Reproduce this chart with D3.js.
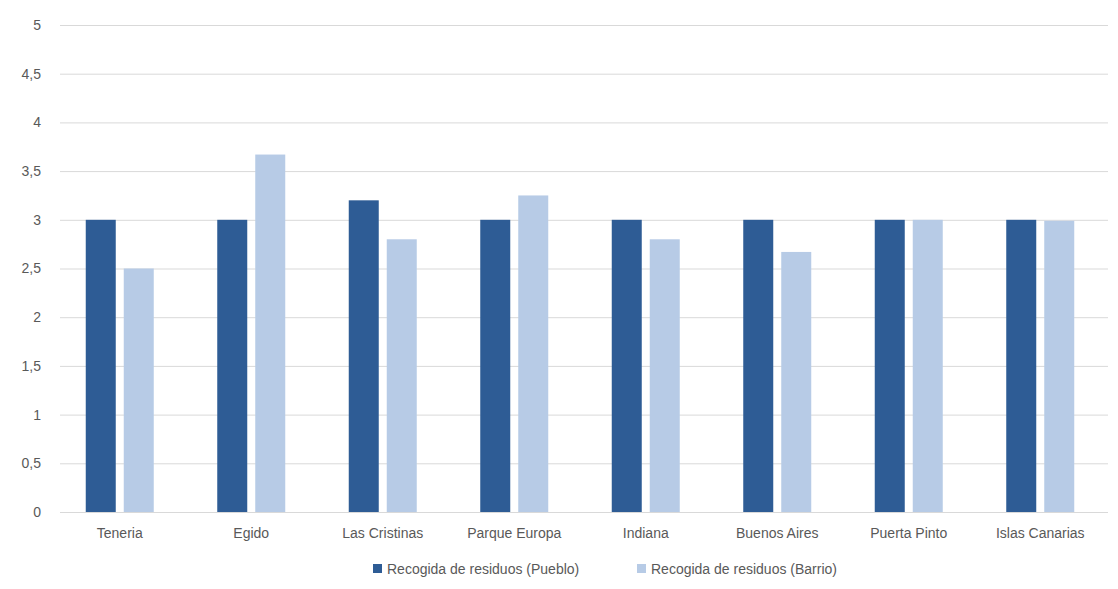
<!DOCTYPE html>
<html><head><meta charset="utf-8">
<script src="https://cdn.jsdelivr.net/npm/d3@7"></script>
<style>body{margin:0;background:#fff;}svg{display:block;}text{font-family:"Liberation Sans",Arial,sans-serif;fill:#595959;}</style>
</head><body><svg id="c" width="1118" height="589"></svg>
<script>
const categories = ["Teneria","Egido","Las Cristinas","Parque Europa","Indiana","Buenos Aires","Puerta Pinto","Islas Canarias"];
const pueblo = [3,3,3.2,3,3,3,3,3];
const barrio = [2.5,3.67,2.8,3.25,2.8,2.67,3,2.99];
const seriesNames = ["Recogida de residuos (Pueblo)","Recogida de residuos (Barrio)"];
const yTicks = [0,0.5,1,1.5,2,2.5,3,3.5,4,4.5,5];
const colors = ["#2e5c95","#b7cbe6"];

const svg = d3.select("#c");
const m = {l:54, r:12, t:25, b:77};
const W = 1118, H = 589;
const x = d3.scaleBand().domain(categories).range([m.l, W-m.r]);
const y = d3.scaleLinear().domain([0,5]).range([H-m.b, m.t]);
const fmt = d => String(d).replace(".", ",");

// gridlines
svg.append("g").selectAll("line").data(yTicks).join("line")
  .attr("x1", 60).attr("x2", W-10)
  .attr("y1", d=>y(d)+0.5).attr("y2", d=>y(d)+0.5)
  .attr("stroke", "#d9d9d9").attr("stroke-width",1);

// y labels
const yAxis = d3.axisLeft(y).tickValues(yTicks).tickFormat(fmt).tickSize(0).tickPadding(0);
const ga = svg.append("g").attr("transform","translate(41,0)").call(yAxis);
ga.select(".domain").remove();
ga.selectAll("text").style("font-size","14px").attr("fill","#595959").style("font-family",null);

// x labels
const xAxis = d3.axisBottom(x).tickSize(0).tickPadding(16);
const gx = svg.append("g").attr("transform",`translate(0,${y(0)})`).call(xAxis);
gx.select(".domain").remove();
gx.selectAll("text").style("font-size","14px").attr("fill","#595959").style("font-family",null);

const bw = 30, gap = 8;
const data = categories.map((c,i)=>({c, v:[pueblo[i], barrio[i]]}));
data.forEach(d=>{
  const cx = x(d.c) + x.bandwidth()/2;
  d.v.forEach((v,j)=>{
    svg.append("rect")
      .attr("x", j===0 ? cx - gap/2 - bw : cx + gap/2)
      .attr("width", bw)
      .attr("y", y(v))
      .attr("height", y(0)-y(v))
      .attr("fill", colors[j]);
  });
});

// legend
const leg = [{x:373},{x:637}];
leg.forEach((l,i)=>{
  svg.append("rect").attr("x",l.x).attr("y",564).attr("width",9).attr("height",9).attr("fill",colors[i]);
  svg.append("text").attr("x",l.x+14).attr("y",574).style("font-size","14px").text(seriesNames[i]);
});
</script></body></html>
